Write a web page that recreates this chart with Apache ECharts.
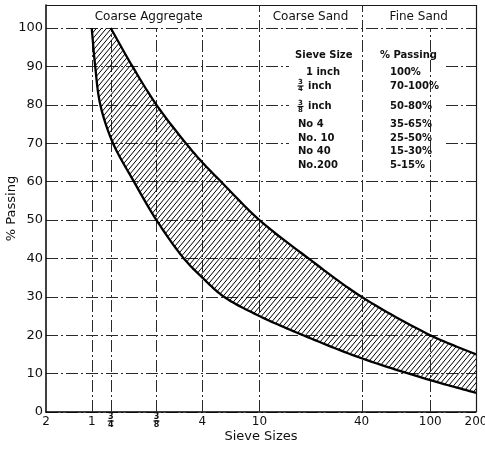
<!DOCTYPE html>
<html><head><meta charset="utf-8">
<script src="https://cdn.jsdelivr.net/npm/echarts@6/dist/echarts.min.js"></script>
<style>html,body{margin:0;padding:0;background:#fff}#c{width:485px;height:449px}</style>
</head><body><div id="c"></div>
<script>
// ---- data ----
const sieveLabels = ['2', '1', '3/4', '3/8', '4', '10', '40', '100', '200'];
const sieveMM = [50.8, 25.4, 19.05, 9.525, 4.75, 2.0, 0.425, 0.15, 0.075];
const zoneNames = ['Coarse Aggregate', 'Coarse Sand', 'Fine Sand'];
const zoneBounds = [50.8, 2.0, 0.425, 0.075];
const upperMM = [19.05, 13.7, 9.525, 6.1, 4.75, 3.58, 2.0, 0.95, 0.425, 0.15, 0.075];
const upperPct = [100, 90, 80, 70, 65, 60, 50, 40, 30, 20, 15];
const lowerMM = [25.4, 24.1, 22.3, 18.4, 13.4, 9.525, 6.29, 4.75, 3.42, 2.0, 1.03, 0.425, 0.15, 0.075];
const lowerPct = [100, 90, 80, 70, 60, 50, 40, 35, 30, 25, 20, 14, 8.3, 5];
const specSieves = ['1 inch', '3/4 inch', '3/8 inch', 'No 4', 'No. 10', 'No 40', 'No.200'];
const specPassing = ['100%', '70-100%', '50-80%', '35-65%', '25-50%', '15-30%', '5-15%'];
const specHeaders = ['Sieve Size', '% Passing'];

// ---- layout / style ----
const FF = 'DejaVu Sans';
const INK = '#111';
const Y_TOP = 106;
const gridStyle = { stroke: '#2a2a2a', lineWidth: 1, lineDash: [12, 3, 2, 3] };

function hatchPattern() {
  const w = 5, h = 6;
  const cv = document.createElement('canvas');
  cv.width = w; cv.height = h;
  const g = cv.getContext('2d');
  g.strokeStyle = '#000'; g.lineWidth = 1;
  for (let k = -1; k <= 1; k++) {
    g.beginPath(); g.moveTo(k * w, h); g.lineTo(k * w + w, 0); g.stroke();
  }
  return { image: cv, repeat: 'repeat' };
}
const HATCH = hatchPattern();

// centripetal Catmull-Rom through screen points
function spline(pts, n) {
  const out = [];
  const N = pts.length;
  const get = i => {
    if (i < 0) return [2 * pts[0][0] - pts[1][0], 2 * pts[0][1] - pts[1][1]];
    if (i >= N) return [2 * pts[N - 1][0] - pts[N - 2][0], 2 * pts[N - 1][1] - pts[N - 2][1]];
    return pts[i];
  };
  const d = (a, b) => Math.pow(Math.hypot(b[0] - a[0], b[1] - a[1]), 0.5) || 1e-6;
  const lerp = (a, b, ta, tb, t) => [((tb - t) * a[0] + (t - ta) * b[0]) / (tb - ta), ((tb - t) * a[1] + (t - ta) * b[1]) / (tb - ta)];
  for (let i = 0; i < N - 1; i++) {
    const p0 = get(i - 1), p1 = get(i), p2 = get(i + 1), p3 = get(i + 2);
    const t0 = 0, t1 = t0 + d(p0, p1), t2 = t1 + d(p1, p2), t3 = t2 + d(p2, p3);
    for (let k = 0; k < n; k++) {
      const t = t1 + (t2 - t1) * k / n;
      const A1 = lerp(p0, p1, t0, t1, t), A2 = lerp(p1, p2, t1, t2, t), A3 = lerp(p2, p3, t2, t3, t);
      const B1 = lerp(A1, A2, t0, t2, t), B2 = lerp(A2, A3, t1, t3, t);
      out.push(lerp(B1, B2, t1, t2, t));
    }
  }
  out.push(pts[N - 1]);
  return out;
}

function frac(cx, cy, num, den, fs, dy) {
  return [
    { type: 'text', x: cx, y: cy - dy, z: 5, style: { text: num, font: 'bold ' + fs + 'px ' + FF, fill: INK, textAlign: 'center', textVerticalAlign: 'middle' } },
    { type: 'line', z: 5, shape: { x1: cx - 3, y1: cy, x2: cx + 3, y2: cy }, style: { stroke: INK, lineWidth: 1.2 } },
    { type: 'text', x: cx, y: cy + dy, z: 5, style: { text: den, font: 'bold ' + fs + 'px ' + FF, fill: INK, textAlign: 'center', textVerticalAlign: 'middle' } }
  ];
}

function renderAll(params, api) {
  if (params.dataIndex !== 0) return null;
  const ch = [];
  const c = (x, y) => api.coord([x, y]);
  // top frame
  const tl = c(zoneBounds[0], Y_TOP), tr = c(zoneBounds[3], Y_TOP);
  ch.push({ type: 'line', shape: { x1: tl[0], y1: Math.round(tl[1]) + 0.5, x2: tr[0], y2: Math.round(tr[1]) + 0.5 }, style: { stroke: '#1a1a1a', lineWidth: 1.2 } });
  // vertical grid lines
  sieveMM.forEach((m, i) => {
    if (i === 0) return;
    const isBound = zoneBounds.indexOf(m) >= 0;
    const a = c(m, 0), b = c(m, isBound ? Y_TOP : 100);
    const x = Math.round(a[0]) + 0.5;
    const st = (m === zoneBounds[3]) ? { stroke: '#1a1a1a', lineWidth: 1.2 } : gridStyle;
    ch.push({ type: 'line', shape: { x1: x, y1: a[1], x2: x, y2: b[1] }, style: st });
  });
  // band
  const lowS = spline(lowerMM.map((m, i) => c(m, lowerPct[i])), 14);
  const upS = spline(upperMM.map((m, i) => c(m, upperPct[i])), 14);
  ch.push({ type: 'polygon', shape: { points: lowS.concat(upS.slice().reverse()) }, style: { fill: HATCH, stroke: null } });
  ch.push({ type: 'polyline', shape: { points: lowS }, style: { stroke: '#000', lineWidth: 2.3, fill: null, lineJoin: 'round' } });
  ch.push({ type: 'polyline', shape: { points: upS }, style: { stroke: '#000', lineWidth: 2.3, fill: null, lineJoin: 'round' } });
  // zone headers
  zoneNames.forEach((name, i) => {
    const mid = Math.sqrt(zoneBounds[i] * zoneBounds[i + 1]);
    const p = c(mid, 103);
    ch.push({ type: 'text', x: p[0] - (i === 0 ? 4 : 0), y: p[1], style: { text: name, font: '12px ' + FF, fill: INK, textAlign: 'center', textVerticalAlign: 'middle' } });
  });
  // x tick labels
  sieveMM.forEach((m, i) => {
    const p = c(m, 0);
    const lab = sieveLabels[i];
    if (lab.indexOf('/') >= 0) {
      const [n, d] = lab.split('/');
      frac(p[0], p[1] + 9, n, d, 8, 4.3).forEach(e => ch.push(e));
    } else {
      ch.push({ type: 'text', x: p[0], y: p[1] + 10, style: { text: lab, font: '12px ' + FF, fill: INK, textAlign: 'center', textVerticalAlign: 'middle' } });
    }
  });
  return { type: 'group', children: ch };
}

// table (layout positions)
const rowY = [72, 86, 106.5, 124.5, 138.5, 151.5, 165.5];
const tableEls = [
  { type: 'rect', z: 1, shape: { x: 289, y: 40, width: 157, height: 133 }, style: { fill: '#fff' } },
  { type: 'text', z: 5, x: 295, y: 55, style: { text: specHeaders[0], font: 'bold 10px ' + FF, fill: INK, textVerticalAlign: 'middle' } },
  { type: 'text', z: 5, x: 380, y: 55, style: { text: specHeaders[1], font: 'bold 10px ' + FF, fill: INK, textVerticalAlign: 'middle' } }
];
specSieves.forEach((s, i) => {
  const y = rowY[i];
  const m = s.match(/^(\d+)\/(\d+) (.*)$/);
  if (m) {
    frac(300.5, y, m[1], m[2], 7, 3.6).forEach(e => tableEls.push(e));
    tableEls.push({ type: 'text', z: 5, x: 308, y: y, style: { text: m[3], font: 'bold 10px ' + FF, fill: INK, textVerticalAlign: 'middle' } });
  } else {
    tableEls.push({ type: 'text', z: 5, x: s.indexOf('inch') >= 0 ? 306 : 298, y: y, style: { text: s, font: 'bold 10px ' + FF, fill: INK, textVerticalAlign: 'middle' } });
  }
  tableEls.push({ type: 'text', z: 5, x: 390, y: y, style: { text: specPassing[i], font: 'bold 10px ' + FF, fill: INK, textVerticalAlign: 'middle' } });
});

const chart = echarts.init(document.getElementById('c'), null, { renderer: 'canvas' });
chart.setOption({
  animation: false,
  backgroundColor: '#fff',
  grid: { left: 46, right: 9, top: 5, bottom: 37, containLabel: false, outerBoundsMode: 'none' },
  xAxis: {
    type: 'log', logBase: 10, min: 0.075, max: 50.8, inverse: true,
    axisLine: { show: true, lineStyle: { color: '#000', width: 1.5 } },
    axisTick: { show: false }, axisLabel: { show: false }, splitLine: { show: false },
    name: 'Sieve Sizes', nameLocation: 'middle', nameGap: 18, nameMoveOverlap: false,
    nameTextStyle: { fontFamily: FF, fontSize: 13, color: INK }
  },
  yAxis: {
    type: 'value', min: 0, max: Y_TOP, interval: 10,
    axisLine: { show: true, lineStyle: { color: '#000', width: 1.5 } },
    axisTick: { show: false },
    axisLabel: { margin: 3, color: INK, fontFamily: FF, fontSize: 13, formatter: v => (v % 10 === 0 && v <= 100) ? String(v) : '' },
    splitLine: { show: true, lineStyle: { color: '#2a2a2a', width: 1, type: [12, 3, 2, 3] } },
    name: '% Passing', nameLocation: 'middle', nameGap: 28, nameMoveOverlap: false,
    nameTextStyle: { fontFamily: FF, fontSize: 13, color: INK }
  },
  graphic: { elements: tableEls },
  series: [{
    type: 'custom', coordinateSystem: 'cartesian2d', data: [[1, 50]],
    renderItem: renderAll, clip: false, silent: true, z: 2
  }]
});
</script></body></html>
